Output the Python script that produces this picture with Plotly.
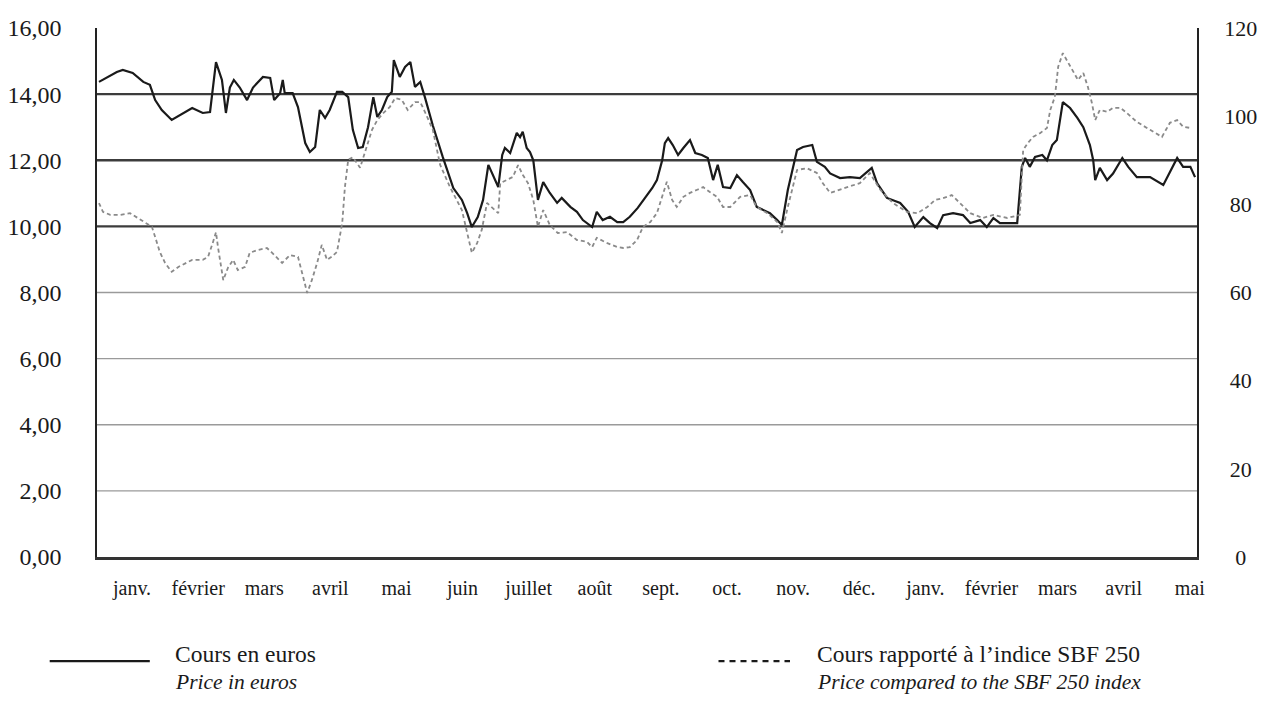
import plotly.graph_objects as go

# ---- data (x = months elapsed since start of first January) ----
months = ["janv.", "février", "mars", "avril", "mai", "juin", "juillet", "août",
          "sept.", "oct.", "nov.", "déc.", "janv.", "février", "mars", "avril", "mai"]

price_t = [0.00, 0.12, 0.27, 0.36, 0.51, 0.67, 0.77, 0.85, 0.95, 1.10, 1.23, 1.41, 1.57, 1.68,
           1.77, 1.86, 1.92, 1.98, 2.04, 2.13, 2.24, 2.33, 2.48, 2.59, 2.65, 2.74, 2.78, 2.81,
           2.93, 3.01, 3.12, 3.19, 3.27, 3.34, 3.42, 3.49, 3.60, 3.68, 3.77, 3.84, 3.92, 3.99,
           4.07, 4.15, 4.21, 4.28, 4.36, 4.43, 4.46, 4.55, 4.63, 4.71, 4.78, 4.86, 4.93, 5.05,
           5.20, 5.36, 5.49, 5.57, 5.64, 5.73, 5.81, 5.89, 6.04, 6.10, 6.14, 6.22, 6.32, 6.37,
           6.41, 6.47, 6.52, 6.57, 6.64, 6.72, 6.82, 6.93, 7.00, 7.13, 7.23, 7.32, 7.46, 7.53,
           7.62, 7.73, 7.84, 7.93, 8.03, 8.15, 8.26, 8.37, 8.44, 8.52, 8.56, 8.61, 8.68, 8.76,
           8.84, 8.94, 9.02, 9.12, 9.21, 9.29, 9.36, 9.44, 9.55, 9.65, 9.74, 9.85, 9.95, 10.05,
           10.15, 10.26, 10.33, 10.42, 10.56, 10.65, 10.79, 10.86, 10.98, 11.06, 11.21, 11.36,
           11.51, 11.69, 11.77, 11.92, 12.12, 12.24, 12.34, 12.47, 12.57, 12.68, 12.77, 12.92,
           13.07, 13.18, 13.33, 13.43, 13.53, 13.63, 13.89, 13.96, 14.01, 14.08, 14.16, 14.27,
           14.34, 14.42, 14.49, 14.58, 14.69, 14.80, 14.89, 14.99, 15.04, 15.07, 15.14, 15.25,
           15.34, 15.48, 15.57, 15.70, 15.90, 16.10, 16.31, 16.40, 16.51, 16.58]
price_eur = [14.37, 14.50, 14.67, 14.73, 14.64, 14.37, 14.28, 13.82, 13.52, 13.22, 13.37, 13.58,
             13.43, 13.46, 14.97, 14.43, 13.43, 14.20, 14.43, 14.20, 13.82, 14.20, 14.52, 14.49,
             13.82, 14.03, 14.43, 14.03, 14.03, 13.61, 12.52, 12.25, 12.40, 13.52, 13.28, 13.52,
             14.07, 14.07, 13.91, 12.92, 12.37, 12.40, 13.00, 13.91, 13.31, 13.52, 13.91, 14.07,
             15.03, 14.52, 14.82, 14.97, 14.22, 14.37, 13.91, 13.05, 12.10, 11.16, 10.80, 10.40,
             9.98, 10.28, 10.80, 11.86, 11.19, 12.16, 12.37, 12.22, 12.83, 12.70, 12.86, 12.37,
             12.25, 12.00, 10.80, 11.34, 11.01, 10.71, 10.86, 10.59, 10.44, 10.19, 9.98, 10.44,
             10.19, 10.29, 10.13, 10.13, 10.29, 10.56, 10.86, 11.16, 11.40, 12.00, 12.52, 12.67,
             12.46, 12.16, 12.37, 12.61, 12.22, 12.16, 12.07, 11.40, 11.86, 11.19, 11.16, 11.55,
             11.34, 11.10, 10.59, 10.50, 10.40, 10.19, 10.04, 11.10, 12.31, 12.40, 12.46, 11.95,
             11.80, 11.60, 11.46, 11.49, 11.46, 11.77, 11.31, 10.86, 10.71, 10.44, 9.98, 10.28,
             10.10, 9.95, 10.34, 10.40, 10.34, 10.10, 10.19, 9.98, 10.25, 10.10, 10.10, 11.80,
             12.07, 11.80, 12.10, 12.16, 12.00, 12.46, 12.61, 13.76, 13.58, 13.28, 13.00, 12.46,
             12.00, 11.40, 11.77, 11.40, 11.60, 12.07, 11.80, 11.49, 11.49, 11.25, 12.07, 11.80,
             11.80, 11.49]

ratio_t = [0.00, 0.06, 0.17, 0.32, 0.47, 0.62, 0.80, 0.85, 0.92, 1.00, 1.10, 1.20, 1.33, 1.41,
           1.57, 1.65, 1.72, 1.77, 1.80, 1.88, 1.95, 2.03, 2.10, 2.21, 2.28, 2.39, 2.54, 2.62,
           2.77, 2.89, 3.01, 3.07, 3.15, 3.22, 3.30, 3.37, 3.45, 3.52, 3.60, 3.68, 3.72, 3.77,
           3.84, 3.95, 4.02, 4.13, 4.21, 4.30, 4.40, 4.48, 4.58, 4.67, 4.78, 4.86, 4.93, 5.05,
           5.16, 5.31, 5.49, 5.57, 5.64, 5.72, 5.79, 5.87, 6.04, 6.07, 6.17, 6.26, 6.34, 6.41,
           6.49, 6.57, 6.64, 6.72, 6.82, 6.94, 7.08, 7.23, 7.38, 7.46, 7.53, 7.69, 7.84, 7.93,
           8.03, 8.14, 8.23, 8.34, 8.44, 8.52, 8.59, 8.67, 8.74, 8.84, 8.94, 9.05, 9.14, 9.24,
           9.35, 9.44, 9.55, 9.70, 9.85, 9.95, 10.11, 10.26, 10.33, 10.42, 10.56, 10.71, 10.86,
           10.95, 11.06, 11.32, 11.51, 11.66, 11.82, 12.01, 12.22, 12.38, 12.53, 12.65, 12.77,
           12.90, 13.03, 13.18, 13.37, 13.53, 13.74, 13.93, 13.98, 14.05, 14.13, 14.24, 14.34,
           14.39, 14.46, 14.51, 14.58, 14.66, 14.74, 14.81, 14.89, 14.96, 15.02, 15.07, 15.14,
           15.25, 15.34, 15.45, 15.55, 15.70, 15.90, 16.08, 16.20, 16.31, 16.40, 16.52]
ratio_sbf = [80.3, 78.3, 77.6, 77.6, 78.0, 76.5, 74.9, 72.6, 69.2, 66.7, 64.7, 65.8, 66.7, 67.4,
             67.4, 68.1, 71.2, 73.7, 70.3, 62.8, 65.6, 67.4, 65.1, 65.8, 69.0, 69.6, 70.1, 69.0,
             66.7, 68.5, 68.1, 64.4, 59.9, 62.8, 66.7, 70.8, 67.4, 68.1, 69.2, 75.8, 83.9, 90.1,
             90.7, 88.3, 91.7, 96.9, 99.1, 100.7, 102.1, 104.1, 103.7, 101.4, 103.2, 103.2, 101.0,
             96.9, 89.0, 83.9, 78.7, 73.7, 69.0, 71.2, 74.2, 80.3, 78.0, 84.8, 85.5, 86.2, 88.9,
             86.7, 84.8, 81.0, 74.9, 78.7, 75.3, 73.5, 73.7, 71.9, 71.5, 70.3, 72.4, 71.2, 70.3,
             70.1, 70.3, 71.9, 74.9, 76.0, 78.0, 82.1, 85.1, 81.0, 79.4, 81.7, 82.6, 83.3, 83.9,
             82.8, 81.7, 79.4, 79.4, 81.7, 82.1, 79.4, 78.0, 76.0, 73.5, 79.4, 87.8, 88.2, 87.1,
             84.8, 82.6, 83.9, 84.8, 87.1, 83.3, 80.3, 78.3, 78.0, 79.4, 81.0, 81.4, 82.1, 80.3,
             78.0, 76.9, 77.6, 76.9, 77.6, 92.3, 93.9, 95.3, 96.2, 97.3, 101.4, 104.4, 111.2,
             114.3, 112.1, 109.8, 108.2, 109.8, 106.6, 103.0, 99.1, 101.4, 101.0, 101.9, 101.9,
             100.7, 98.7, 96.9, 95.3, 98.5, 99.1, 97.6, 97.3]

left_ticks = [0, 2, 4, 6, 8, 10, 12, 14, 16]
left_labels = ["0,00", "2,00", "4,00", "6,00", "8,00", "10,00", "12,00", "14,00", "16,00"]
right_ticks = [0, 20, 40, 60, 80, 100, 120]
right_labels = ["  0", " 20", " 40", " 60", " 80", "100", "120"]

legend_fr = ["Cours en euros", "Cours rapporté à l’indice SBF 250"]
legend_en = ["Price in euros", "Price compared to the SBF 250 index"]

FONT = "Liberation Serif"
INK = "#1a1a1a"

fig = go.Figure()
fig.add_trace(go.Scatter(x=price_t, y=price_eur, mode="lines", name=legend_en[0],
                         line=dict(color=INK, width=2.2), yaxis="y"))
fig.add_trace(go.Scatter(x=ratio_t, y=ratio_sbf, mode="lines", name=legend_en[1],
                         line=dict(color="#8a8a8a", width=1.8, dash="4px,3px"), yaxis="y2"))

# horizontal grid lines (none at the top value)
shapes = []
for v in left_ticks[1:-1]:
    dark = v >= 10
    shapes.append(dict(type="line", xref="paper", x0=0, x1=1, yref="y", y0=v, y1=v,
                       layer="below",
                       line=dict(color="#3c3c3c" if dark else "#9a9a9a", width=2.4 if dark else 1.3)))

# legend keys
shapes.append(dict(type="line", xref="paper", yref="paper", x0=-0.043, x1=0.048,
                   y0=-0.197, y1=-0.197, line=dict(color=INK, width=2.2)))
shapes.append(dict(type="line", xref="paper", yref="paper", x0=0.565, x1=0.630,
                   y0=-0.197, y1=-0.197, line=dict(color=INK, width=2.2, dash="6px,5px")))

annotations = []
for xa, fr, en in [(0.0718, legend_fr[0], legend_en[0]), (0.6555, legend_fr[1], legend_en[1])]:
    annotations.append(dict(x=xa, y=-0.183, xref="paper", yref="paper", text=fr,
                            showarrow=False, xanchor="left", yanchor="middle", xshift=-3,
                            font=dict(family=FONT, size=23.5, color=INK)))
    annotations.append(dict(x=xa, y=-0.236, xref="paper", yref="paper", text="<i>" + en + "</i>",
                            showarrow=False, xanchor="left", yanchor="middle", xshift=-3,
                            font=dict(family=FONT, size=21.5, color=INK)))

fig.update_layout(
    width=1269, height=701,
    margin=dict(l=97, r=72, t=28, b=144, autoexpand=False),
    paper_bgcolor="white", plot_bgcolor="white",
    showlegend=False,
    font=dict(family=FONT, color=INK),
    shapes=shapes, annotations=annotations,
    xaxis=dict(range=[-0.03, 16.61], tickvals=[i + 0.5 for i in range(len(months))],
               ticktext=months, showgrid=False, zeroline=False, ticks="", automargin=False,
               showline=True, linecolor="#333333", linewidth=2.5,
               tickfont=dict(family=FONT, size=20, color=INK), ticklabelstandoff=11),
    yaxis=dict(range=[0, 16], tickvals=left_ticks, ticktext=left_labels, automargin=False,
               showgrid=False, zeroline=False, ticks="",
               showline=True, linecolor="#222222", linewidth=1.5,
               tickfont=dict(family=FONT, size=24, color=INK), ticklabelstandoff=29),
    yaxis2=dict(range=[0, 120], tickvals=right_ticks, ticktext=right_labels, automargin=False,
                overlaying="y", side="right", showgrid=False, zeroline=False, ticks="",
                showline=True, linecolor="#222222", linewidth=1.5,
                tickfont=dict(family=FONT, size=22, color=INK), ticklabelstandoff=21),
)

fig.write_html("out.html", config={"displayModeBar": False},
               post_script="document.body.style.margin='0';")
